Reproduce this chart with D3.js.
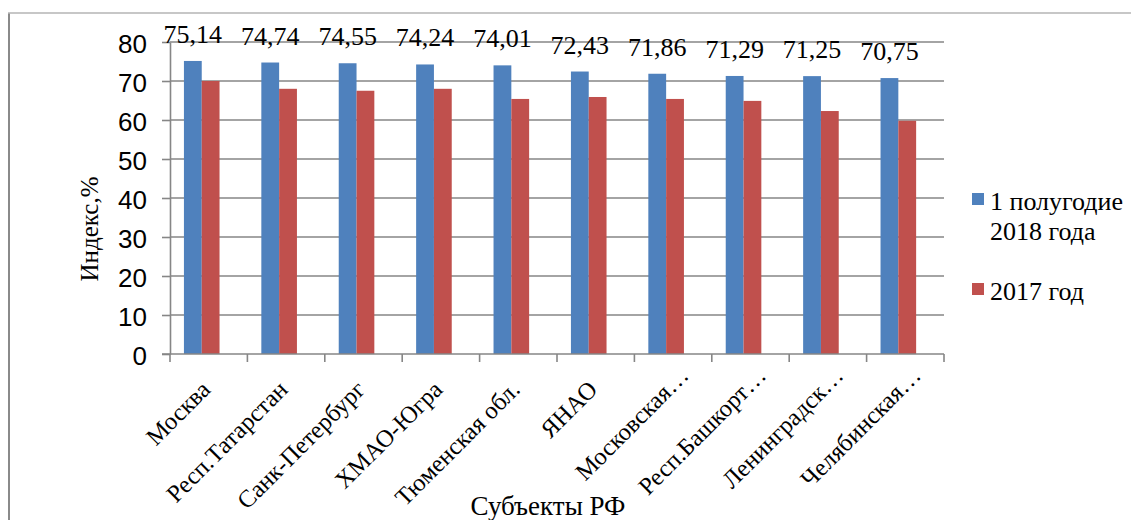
<!DOCTYPE html>
<html>
<head>
<meta charset="utf-8">
<script src="https://cdn.jsdelivr.net/npm/d3@7"></script>
<style>
  html, body { margin: 0; padding: 0; background: #fff; }
  svg { display: block; }
  .serif { font-family: "Liberation Serif", "Times New Roman", Times, "DejaVu Serif", serif; }
  .sans { font-family: "Liberation Sans", Arial, Helvetica, sans-serif; }
</style>
</head>
<body>
<svg id="chart" width="1131" height="520"></svg>
<script>
// Regions of the Russian Federation
const categories = [
  "Москва", "Респ.Татарстан", "Санк-Петербург", "ХМАО-Югра", "Тюменская обл.",
  "ЯНАО", "Московская…", "Респ.Башкорт…", "Ленинградск…", "Челябинская…"
];
const seriesNames = ["1 полугодие 2018 года", "2017 год"];
const seriesLegendLines = [["1 полугодие", "2018 года"], ["2017 год"]];
const seriesColors = ["#4F81BD", "#C0504D"];
const valuesH1_2018 = [75.14, 74.74, 74.55, 74.24, 74.01, 72.43, 71.86, 71.29, 71.25, 70.75];
const values2017 = [70.0, 68.0, 67.5, 68.0, 65.4, 65.9, 65.4, 64.9, 62.3, 59.8];
const yTicks = [0, 10, 20, 30, 40, 50, 60, 70, 80];
const yTitle = "Индекс,%";
const xTitle = "Субъекты РФ";

const svg = d3.select("#chart");
const W = 1131, H = 520;
const plot = { left: 170, right: 944, top: 42, bottom: 354 };
const gridColor = "#868686";

// Outer frame (left and top edges visible)
svg.append("path")
  .attr("d", `M9,${H} V13`)
  .attr("stroke", "#8a8a8a").attr("stroke-width", 2).attr("fill", "none");
svg.append("path")
  .attr("d", `M8,13 H${W}`)
  .attr("stroke", "#b4b4b4").attr("stroke-width", 1.5).attr("fill", "none");

const x0 = d3.scaleBand().domain(categories).range([plot.left, plot.right]).paddingInner(0).paddingOuter(0);
const bw = x0.bandwidth();
const x1 = d3.scaleBand().domain(seriesNames).range([bw * 0.18, bw * 0.64]).padding(0);
const y = d3.scaleLinear().domain([0, 80]).range([plot.bottom, plot.top]);

// Horizontal gridlines
svg.append("g").selectAll("line")
  .data(yTicks.filter(d => d > 0))
  .join("line")
  .attr("x1", plot.left).attr("x2", plot.right)
  .attr("y1", d => y(d)).attr("y2", d => y(d))
  .attr("stroke", gridColor).attr("stroke-width", 1.6);

// Y axis
const yAxis = svg.append("g")
  .attr("transform", `translate(${plot.left},0)`)
  .call(d3.axisLeft(y).tickValues(yTicks).tickSize(8).tickPadding(15).tickSizeOuter(0));
yAxis.attr("font-family", null).attr("font-size", null);
yAxis.select(".domain").attr("stroke", gridColor).attr("stroke-width", 1.6);
yAxis.selectAll(".tick line").attr("stroke", gridColor).attr("stroke-width", 1.6);
yAxis.selectAll(".tick text")
  .attr("class", "sans")
  .style("font-size", "26px").attr("fill", "#000")
  .attr("dy", "0.4em");

// Bars
const seriesData = [valuesH1_2018, values2017];
const groups = svg.append("g").selectAll("g")
  .data(categories)
  .join("g")
  .attr("transform", d => `translate(${x0(d)},0)`);

groups.selectAll("rect")
  .data((c, i) => seriesNames.map((s, k) => ({ s, k, v: seriesData[k][i] })))
  .join("rect")
  .attr("x", d => x1(d.s))
  .attr("width", x1.bandwidth())
  .attr("y", d => y(d.v))
  .attr("height", d => y(0) - y(d.v))
  .attr("fill", d => seriesColors[d.k]);

// Value labels for the 2018 series
groups.append("text")
  .attr("class", "serif")
  .attr("x", () => x1(seriesNames[0]) + x1.bandwidth() / 2)
  .attr("y", (c, i) => y(valuesH1_2018[i]) - 18)
  .attr("text-anchor", "middle")
  .style("font-size", "26px").attr("fill", "#000")
  .text((c, i) => d3.format(".2f")(valuesH1_2018[i]).replace(".", ","));

// X axis line and tick marks at category boundaries
svg.append("line")
  .attr("x1", plot.left - 8).attr("x2", plot.right)
  .attr("y1", plot.bottom).attr("y2", plot.bottom)
  .attr("stroke", gridColor).attr("stroke-width", 1.6);
const tickXs = categories.map(c => x0(c)).concat([plot.right]);
svg.append("g").selectAll("line")
  .data(tickXs)
  .join("line")
  .attr("x1", d => d).attr("x2", d => d)
  .attr("y1", plot.bottom).attr("y2", plot.bottom + 8)
  .attr("stroke", gridColor).attr("stroke-width", 1.6);

// Rotated category labels; truncated names carry a trailing ellipsis that
// pushes their end further along the slant
svg.append("g").selectAll("text")
  .data(categories)
  .join("text")
  .attr("class", "serif")
  .attr("transform", d => {
    const s = d.endsWith("…") ? 14 : 0;
    return `translate(${x0(d) + bw / 2 + 3 + s},${plot.bottom + 37 - s}) rotate(-45)`;
  })
  .attr("text-anchor", "end")
  .style("font-size", "24.5px").attr("fill", "#000")
  .text(d => d);

// Axis titles
svg.append("text")
  .attr("class", "serif")
  .attr("transform", `translate(98,229) rotate(-90)`)
  .attr("text-anchor", "middle")
  .style("font-size", "25px").attr("fill", "#000")
  .text(yTitle);
svg.append("text")
  .attr("class", "serif")
  .attr("x", 548).attr("y", 515)
  .attr("text-anchor", "middle")
  .style("font-size", "27px").attr("fill", "#000")
  .text(xTitle);

// Legend
const legend = svg.append("g").attr("transform", "translate(972,0)");
const legendTops = [193, 283];
seriesNames.forEach((s, k) => {
  const g = legend.append("g").attr("transform", `translate(0,${legendTops[k]})`);
  g.append("rect").attr("width", 12).attr("height", 12).attr("fill", seriesColors[k]);
  const t = g.append("text")
    .attr("class", "serif")
    .style("font-size", "26px").attr("fill", "#000");
  seriesLegendLines[k].forEach((line, j) => {
    t.append("tspan").attr("x", 18).attr("y", 17 + j * 30).text(line);
  });
});
</script>
</body>
</html>
